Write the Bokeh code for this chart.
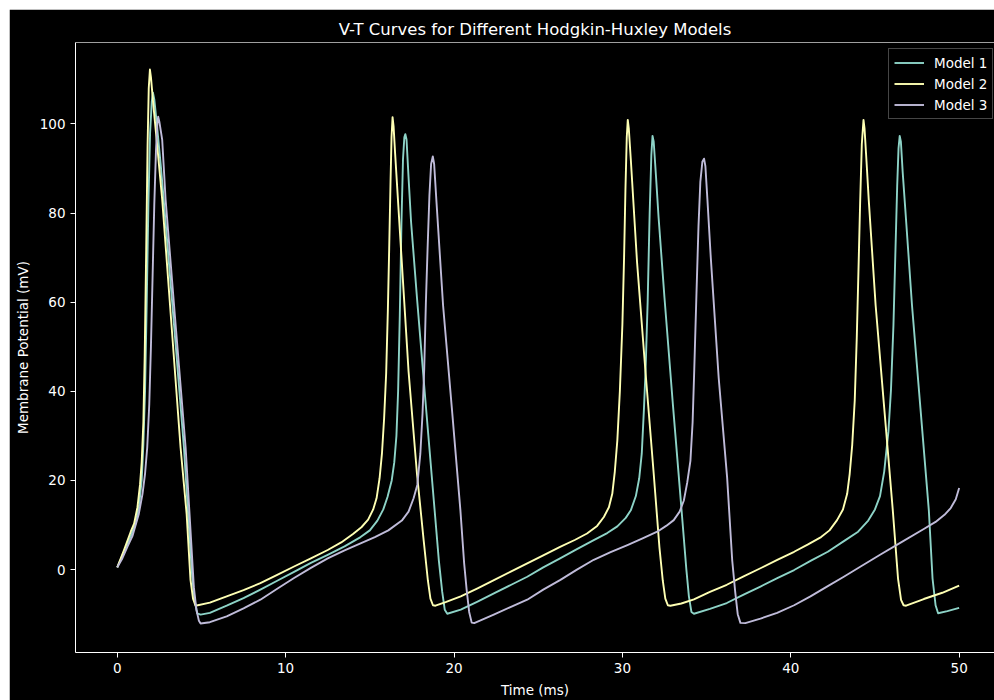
from bokeh.plotting import figure
from bokeh.models import Range1d, FixedTicker, Span, Legend, LegendItem, Spacer
from bokeh.layouts import column, row
from bokeh.embed import file_html
from bokeh.resources import INLINE

title_text = "V-T Curves for Different Hodgkin-Huxley Models"
x_label = "Time (ms)"
y_label = "Membrane Potential (mV)"
series_names = ["Model 1", "Model 2", "Model 3"]
series_colors = ["#8dd3c7", "#feffb3", "#bfbbd9"]
x_ticks = [0, 10, 20, 30, 40, 50]
y_ticks = [0, 20, 40, 60, 80, 100]

# Model 1
t1 = [0.0, 0.4, 0.8, 1.1, 1.3, 1.45, 1.55, 1.65, 1.75, 1.85, 1.95, 2.05, 2.12, 2.2, 2.35, 2.6,
      3.0, 3.5, 3.96, 4.25, 4.45, 4.6, 4.75, 4.95, 5.5, 6.5, 7.5, 8.5, 9.5, 10.5, 11.5, 12.5,
      13.5, 14.45, 15.0, 15.45, 15.8, 16.05, 16.3, 16.45, 16.58, 16.68, 16.78, 16.88, 16.97,
      17.05, 17.11, 17.18, 17.3, 17.45, 17.8, 18.3, 18.8, 19.1, 19.3, 19.45, 19.6, 20.4, 21.4,
      22.4, 23.4, 24.35, 25.3, 26.3, 27.3, 28.3, 29.1, 29.7, 30.2, 30.5, 30.8, 31.0, 31.15,
      31.28, 31.38, 31.5, 31.62, 31.72, 31.79, 31.86, 32.0, 32.15, 32.5, 33.0, 33.5, 33.8,
      33.95, 34.1, 34.25, 35.2, 36.2, 37.2, 38.2, 39.2, 40.2, 41.2, 42.2, 43.2, 44.0, 44.6,
      45.0, 45.3, 45.55, 45.8, 45.95, 46.1, 46.22, 46.32, 46.4, 46.47, 46.54, 46.65, 46.8,
      47.2, 47.7, 48.2, 48.42, 48.6, 48.75, 49.3, 50.0]
v1 = [0.5, 4.0, 7.5, 10.5, 14.5, 20.0, 28.0, 40.0, 60.0, 82.0, 98.0, 105.0, 107.0, 105.5, 100.0, 90.0,
      72.0, 49.0, 27.4, 10.0, -1.5, -7.0, -9.8, -10.1, -9.7, -8.1, -6.4, -4.5, -2.5, -0.5, 1.5, 3.3,
      5.2, 7.3, 8.8, 11.0, 13.5, 16.3, 20.0, 24.0, 30.0, 40.0, 57.0, 78.0, 92.0,
      97.0, 97.7, 96.5, 88.0, 78.0, 61.0, 38.0, 15.5, 2.0, -5.0, -9.0, -9.9, -9.0, -7.2,
      -5.3, -3.4, -1.6, 0.5, 2.5, 4.6, 6.6, 8.2, 9.7, 11.6, 13.3, 16.5, 20.5, 26.0,
      36.0, 45.0, 60.0, 80.0, 93.0, 97.3, 96.0, 88.0, 79.0, 61.0, 37.0, 14.0, 0.0,
      -6.0, -9.5, -9.9, -8.8, -7.5, -5.6, -3.8, -1.9, -0.1, 2.0, 4.0, 6.5, 8.5, 11.0,
      13.5, 16.5, 22.0, 31.0, 40.2, 55.0, 72.0, 86.0, 94.5, 97.3, 96.0, 89.0, 81.0,
      59.3, 36.3, 13.3, -2.0, -8.0, -9.8, -9.3, -8.6]

# Model 2
t2 = [0.0, 0.4, 0.8, 1.0, 1.2, 1.35, 1.45, 1.55, 1.63, 1.72, 1.8, 1.87, 1.94, 2.0, 2.15, 2.4,
      2.67, 3.2, 3.76, 4.12, 4.35, 4.5, 4.65, 5.5, 6.5, 7.5, 8.5, 9.5, 10.5, 11.5, 12.5, 13.3,
      14.0, 14.5, 14.9, 15.2, 15.4, 15.58, 15.72, 15.85, 15.97, 16.07, 16.15, 16.23, 16.29,
      16.35, 16.41, 16.5, 16.8, 17.3, 17.8, 18.2, 18.45, 18.6, 18.75, 18.9, 19.5, 20.4, 21.4,
      22.4, 23.4, 24.35, 25.3, 26.3, 27.2, 27.9, 28.5, 28.9, 29.2, 29.4, 29.55, 29.7, 29.85,
      30.0, 30.1, 30.18, 30.26, 30.32, 30.38, 30.5, 30.87, 31.38, 31.85, 32.2, 32.4, 32.55,
      32.7, 32.85, 33.5, 34.25, 35.2, 36.2, 37.2, 38.2, 39.2, 40.2, 41.0, 41.8, 42.3, 42.75,
      43.1, 43.35, 43.5, 43.65, 43.8, 43.92, 44.02, 44.12, 44.22, 44.32, 44.38, 44.5, 44.63,
      45.04, 45.55, 46.06, 46.37, 46.55, 46.7, 46.85, 47.9, 49.0, 50.0]
v2 = [0.5, 4.4, 8.5, 10.3, 14.0, 19.0, 24.0, 33.0, 48.0, 72.0, 95.0, 108.0, 112.2, 110.5, 104.0, 94.0,
      83.0, 56.0, 27.4, 12.5, -2.3, -6.5, -8.1, -7.4, -6.0, -4.6, -3.05, -1.2, 0.7, 2.5, 4.4, 6.1,
      8.0, 9.5, 11.2, 13.5, 16.0, 20.5, 26.0, 34.0, 44.0, 58.0, 72.0, 87.0, 97.0,
      101.5, 99.5, 93.5, 75.0, 44.5, 21.5, 6.5, -2.5, -6.5, -8.0, -8.1, -7.3, -6.0, -4.2,
      -2.3, -0.4, 1.4, 3.2, 5.1, 6.7, 8.1, 9.8, 11.8, 14.0, 17.0, 22.0, 29.0, 40.0,
      55.0, 70.0, 85.0, 97.0, 100.9, 99.0, 92.0, 69.0, 44.0, 22.0, 5.0, -2.5, -6.5,
      -8.0, -8.1, -7.6, -6.7, -5.0, -3.4, -1.5, 0.3, 2.2, 4.0, 5.6, 7.3, 8.8, 11.1,
      13.5, 17.0, 21.5, 28.0, 38.0, 52.0, 67.0, 82.3, 95.5, 100.9, 99.0, 91.5, 83.0,
      59.3, 36.3, 13.3, -2.0, -6.8, -8.0, -8.1, -6.6, -5.2, -3.6]

# Model 3
t3 = [0.0, 0.3, 0.6, 0.9, 1.28, 1.5, 1.65, 1.78, 1.9, 2.0, 2.1, 2.2, 2.3, 2.38, 2.43, 2.5,
      2.67, 2.87, 3.4, 4.06, 4.35, 4.55, 4.7, 4.85, 4.95, 5.5, 6.5, 7.5, 8.5, 9.5, 10.5, 11.5,
      12.5, 13.5, 14.45, 15.3, 16.1, 16.9, 17.3, 17.6, 17.82, 18.0, 18.13, 18.23, 18.33, 18.43,
      18.54, 18.64, 18.74, 18.82, 18.95, 19.35, 19.87, 20.38, 20.6, 20.75, 20.9, 21.05, 21.2,
      22.36, 23.35, 24.35, 25.3, 26.32, 27.3, 28.3, 29.3, 30.3, 31.2, 32.07, 32.6, 33.05, 33.4,
      33.65, 33.85, 34.04, 34.17, 34.27, 34.4, 34.52, 34.63, 34.75, 34.85, 34.93, 35.05, 35.25,
      35.72, 36.22, 36.52, 36.7, 36.85, 37.01, 37.3, 38.2, 39.19, 40.2, 41.17, 42.2, 43.15,
      44.2, 45.33, 46.5, 47.9, 48.6, 49.13, 49.5, 49.8, 50.0]
v3 = [0.5, 2.5, 5.1, 7.5, 12.5, 17.0, 21.5, 27.4, 37.0, 50.0, 66.0, 82.0, 94.0, 100.0, 101.6, 100.5,
      96.4, 83.1, 58.0, 27.4, 8.8, -4.0, -9.0, -11.5, -12.1, -11.8, -10.5, -8.7, -6.75, -4.3, -1.9, 0.4,
      2.5, 4.3, 5.9, 7.3, 8.8, 11.0, 13.0, 16.0, 19.0, 26.0, 35.0, 45.0, 60.0, 72.0,
      84.0, 91.0, 92.7, 91.0, 83.0, 59.3, 36.3, 13.3, 1.5, -4.5, -9.5, -11.9, -12.0,
      -10.1, -8.4, -6.75, -4.5, -2.3, 0.0, 2.2, 3.9, 5.5, 7.0, 8.5, 9.8, 11.1, 13.0,
      15.5, 19.5, 24.4, 33.0, 45.0, 62.0, 77.0, 87.0, 91.5, 92.2, 90.5, 83.0, 70.0,
      43.0, 20.7, 2.2, -5.0, -10.0, -11.95, -12.0, -11.0, -9.7, -8.0, -6.0, -3.7, -1.6,
      0.8, 3.4, 6.0, 9.1, 10.7, 12.3, 13.8, 15.8, 18.3]

series_t = [t1, t2, t3]
series_v = [v1, v2, v3]

FONT = "DejaVu Sans"
WHITE = "#ffffff"

p = figure(width=985, height=691, output_backend="svg", toolbar_location=None,
           x_range=Range1d(-2.48, 52.1), y_range=Range1d(-18.6, 118.26),
           min_border_left=66, min_border_right=0, min_border_top=33, min_border_bottom=45)
p.background_fill_color = "black"
p.border_fill_color = "black"
p.outline_line_color = None
p.grid.visible = False

p.title.text = title_text
p.title.align = "center"
p.title.text_color = WHITE
p.title.text_font = FONT
p.title.text_font_size = "16.5px"
p.title.text_font_style = "normal"
p.title.offset = 3
p.title.standoff = 7

for ax in (p.xaxis[0], p.yaxis[0]):
    ax.axis_line_color = WHITE
    ax.axis_line_width = 1
    ax.major_tick_line_color = WHITE
    ax.major_tick_out = 5
    ax.major_tick_in = 0
    ax.minor_tick_line_color = None
    ax.major_label_text_color = WHITE
    ax.major_label_text_font = FONT
    ax.major_label_text_font_size = "13.5px"
    ax.major_label_standoff = 5
    ax.axis_label_text_color = WHITE
    ax.axis_label_text_font = FONT
    ax.axis_label_text_font_size = "13.5px"
    ax.axis_label_text_font_style = "normal"
    ax.axis_label_standoff = 6

p.xaxis[0].ticker = FixedTicker(ticks=x_ticks)
p.yaxis[0].ticker = FixedTicker(ticks=y_ticks)
p.xaxis[0].axis_label = x_label
p.yaxis[0].axis_label = y_label

p.add_layout(Span(location=118.26, dimension="width", line_color=WHITE, line_width=1))

items = []
for name, col, tt, vv in zip(series_names, series_colors, series_t, series_v):
    r = p.line(tt, vv, line_color=col, line_width=1.9, line_join="round")
    items.append(LegendItem(label=name, renderers=[r]))

legend = Legend(items=items, location=(813, 533))
legend.background_fill_color = "black"
legend.background_fill_alpha = 0.8
legend.border_line_color = "#8c8c8c"
legend.border_line_width = 1
legend.label_text_color = WHITE
legend.label_text_font = FONT
legend.label_text_font_size = "13.5px"
legend.glyph_width = 30
legend.glyph_height = 17
legend.label_height = 17
legend.label_standoff = 10
legend.spacing = 4
legend.padding = 5
legend.margin = 0
p.add_layout(legend, "center")

layout = column(Spacer(height=9), row(Spacer(width=9), p))
open("out.html", "w").write(file_html(layout, INLINE))
